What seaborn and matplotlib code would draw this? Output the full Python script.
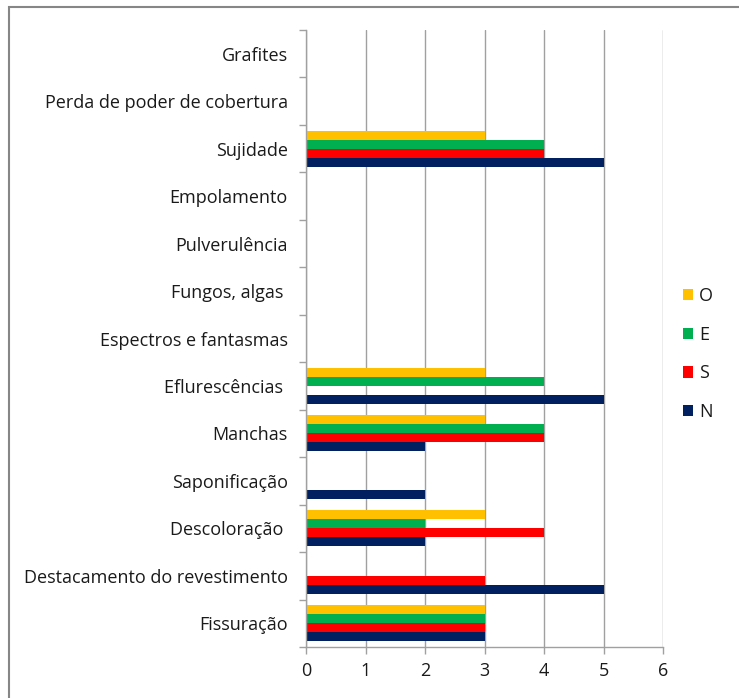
import matplotlib
matplotlib.use("Agg")
import matplotlib.pyplot as plt
from matplotlib.patches import Rectangle
from matplotlib.ticker import FixedLocator
import numpy as np
import pandas as pd
import seaborn as sns

# Anomalies observed, listed top to bottom
categories = [
    "Grafites",
    "Perda de poder de cobertura",
    "Sujidade",
    "Empolamento",
    "Pulverulência",
    "Fungos, algas ",
    "Espectros e fantasmas",
    "Eflurescências ",
    "Manchas",
    "Saponificação",
    "Descoloração ",
    "Destacamento do revestimento",
    "Fissuração",
]

# Counts per façade orientation
N = [0, 0, 5, 0, 0, 0, 0, 5, 2, 2, 2, 5, 3]
S = [0, 0, 4, 0, 0, 0, 0, 0, 4, 0, 4, 3, 3]
E = [0, 0, 4, 0, 0, 0, 0, 4, 4, 0, 2, 0, 3]
O = [0, 0, 3, 0, 0, 0, 0, 3, 3, 0, 3, 0, 3]

series_order = ["O", "E", "S", "N"]
colors = {"O": "#FFC000", "E": "#00B050", "S": "#FF0000", "N": "#002060"}
x_ticks = [0, 1, 2, 3, 4, 5, 6]

values = {"N": N, "S": S, "E": E, "O": O}
df = pd.DataFrame(
    [(c, s, values[s][i]) for s in series_order for i, c in enumerate(categories)],
    columns=["categoria", "orientação", "valor"],
)

sns.set_theme(style="white")
plt.rcParams["font.family"] = ["Open Sans", "DejaVu Sans"]

W, H = 739, 698
fig = plt.figure(figsize=(W / 100, H / 100), dpi=100)
ax = fig.add_axes([306 / W, 1 - 647 / H, (663 - 306) / W, (647 - 30) / H])

sns.barplot(
    data=df, y="categoria", x="valor", hue="orientação",
    order=categories, hue_order=series_order, palette=colors,
    orient="h", width=0.76, linewidth=0, saturation=1, ax=ax,
)

grid_c = "#A0A0A0"
txt_c = "#1A1A1A"
ax.set_xlim(0, 6)
ax.set_ylim(len(categories) - 0.5, -0.5)
ax.set_xticks(x_ticks)
ax.set_xticklabels([str(t) for t in x_ticks])
ax.xaxis.grid(True, color=grid_c, lw=1)
ax.yaxis.grid(False)
ax.set_axisbelow(True)
ax.set_xlabel("")
ax.set_ylabel("")

for side in ["top", "right"]:
    ax.spines[side].set_visible(False)
for side in ["left", "bottom"]:
    ax.spines[side].set_color(grid_c)
    ax.spines[side].set_linewidth(1)

ax.yaxis.set_minor_locator(FixedLocator(np.arange(-0.5, len(categories), 1.0)))
ax.tick_params(axis="y", which="major", length=0, pad=13, labelsize=13, labelcolor=txt_c)
ax.tick_params(axis="y", which="minor", length=5, width=1, color=grid_c, left=True)
ax.tick_params(axis="x", which="major", length=5, width=1, color=grid_c, bottom=True,
               pad=6, labelsize=13, labelcolor=txt_c)

handles, labels = ax.get_legend_handles_labels()
ax.legend(
    handles, labels, loc="center left", bbox_to_anchor=(683 / W, 1 - 354 / H),
    bbox_transform=fig.transFigure, frameon=False, fontsize=13,
    handlelength=0.58, handleheight=0.58, handletextpad=0.3, labelspacing=1.15,
    borderpad=0, borderaxespad=0, labelcolor=txt_c,
)

fig.patches.append(Rectangle((8.5 / W, -0.1), 2, 1 - 7 / H + 0.1, transform=fig.transFigure,
                             fill=False, edgecolor="#868686", lw=1.5))

fig.savefig("out.png", dpi=100, facecolor="white")
